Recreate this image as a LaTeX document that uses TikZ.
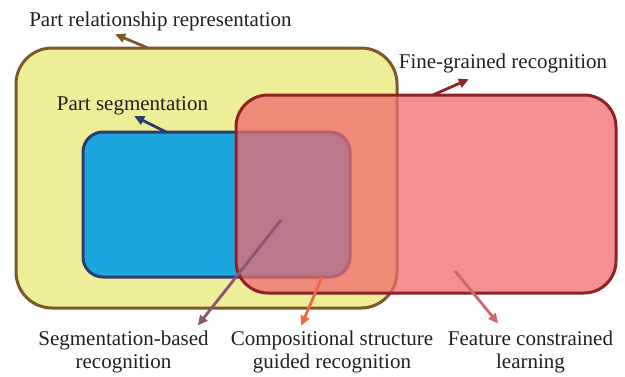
\documentclass[tikz,border=0pt]{standalone}
\usepackage{fontspec}
\setmainfont{Liberation Serif}
\usetikzlibrary{arrows.meta}

\definecolor{yfill}{HTML}{EEEE98}
\definecolor{ydraw}{HTML}{7A5A2C}
\definecolor{bfill}{HTML}{1CA6DE}
\definecolor{bdraw}{HTML}{2A3E6E}
\definecolor{rfill}{HTML}{F0696F}
\definecolor{rdraw}{HTML}{8E2226}
\definecolor{segarrow}{HTML}{8B5672}
\definecolor{comparrow}{HTML}{F0664A}
\definecolor{featarrow}{HTML}{C9696A}
\definecolor{txt}{HTML}{231F20}

\tikzset{
  region/.style={minimum width=#1, line width=3pt, inner sep=0pt, outer sep=0pt},
  label/.style={text=txt, font=\fontsize{21}{23}\selectfont, align=center, inner sep=0pt, anchor=base},
  pointer/.style={line width=2.8pt, -{Triangle[length=10pt,width=9pt]}, shorten >=-2pt}
}

\begin{document}
\begin{tikzpicture}[x=1pt,y=-1pt]
\useasboundingbox (0,0) rectangle (625,376);

% regions
\node (yel) [region=381pt, minimum height=260pt, rounded corners=36pt,
  draw=ydraw, fill=yfill] at (206.5,178) {};
\node (blu) [region=267pt, minimum height=145pt, rounded corners=20pt,
  draw=bdraw, fill=bfill] at (216.5,204.5) {};
\node (red) [region=380pt, minimum height=198pt, rounded corners=32pt,
  draw=rdraw, fill=rfill, fill opacity=0.75] at (426,194) {};

% labels
\node (lrel) [label] at (160.5,26) {Part relationship representation};
\node (lseg) [label] at (132.5,110) {Part segmentation};
\node (lfine) [label] at (503,68) {Fine-grained recognition};
\node (lsb) [label, anchor=north] at (123.5,331) {Segmentation-based\\recognition};
\node (lcomp) [label, anchor=north] at (332,331) {Compositional structure\\guided recognition};
\node (lfeat) [label, anchor=north] at (530.5,331) {Feature constrained\\learning};

% arrow anchors
\coordinate (relS) at ([xshift=-58.5pt]yel.north);
\coordinate (relE) at (117,35);
\coordinate (segS) at ([xshift=-50.5pt]blu.north);
\coordinate (segE) at (136,117);
\coordinate (fineS) at ([xshift=7pt]red.north);
\coordinate (fineE) at (467,80);
\coordinate (sbS) at (281,220);
\coordinate (sbE) at (199,324);
\coordinate (compS) at ([xshift=105.5pt]blu.south);
\coordinate (compE) at (302,324);
\coordinate (featS) at (455,271);
\coordinate (featE) at (497,322);

% arrows
\draw[pointer, draw=ydraw, fill=ydraw] (relS) -- (relE);
\draw[pointer, draw=bdraw, fill=bdraw] (segS) -- (segE);
\draw[pointer, draw=rdraw, fill=rdraw] (fineS) -- (fineE);
\draw[pointer, draw=segarrow, fill=segarrow] (sbS) -- (sbE);
\draw[pointer, draw=comparrow, fill=comparrow] (compS) -- (compE);
\draw[pointer, draw=featarrow, fill=featarrow] (featS) -- (featE);
\end{tikzpicture}
\end{document}
